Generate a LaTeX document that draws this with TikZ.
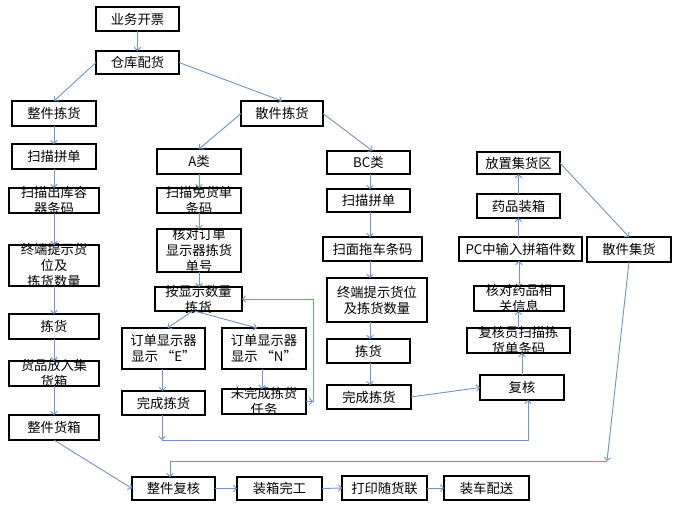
\documentclass[tikz,border=0pt]{standalone}
\usepackage{fontspec}
\newfontfamily\cjk{Noto Sans CJK SC}
\usetikzlibrary{arrows.meta,calc}
\definecolor{conn}{RGB}{112,146,196}
\tikzset{
  box/.style={draw=black,line width=2.4pt,inner sep=0pt,outer sep=0pt,rectangle},
  txt/.style={inner sep=0pt,align=center,font=\cjk\fontsize{13.3}{16}\selectfont},
  arr/.style={draw=conn,line width=0.9pt,-{Straight Barb[length=3pt,width=6.5pt]}},
}
\newcommand\bx[6]{%
  \node[box,minimum width={(#4-#2)*1pt},minimum height={(#5-#3)*1pt}] (#1) at ({(#2+#4)/2},{(#3+#5)/2}) {};
  \node[txt] (#1-t) at (#1.center) {#6};}
\begin{document}
\begin{tikzpicture}[x=1pt,y=-1pt]
\useasboundingbox[fill=white] (0,0) rectangle (674,509);
% left column
\bx{yw}{96}{7}{179}{31}{业务开票}
\bx{ck}{96}{51}{179}{74}{仓库配货}
\bx{zj}{12}{101}{96}{126}{整件拣货}
\bx{sj}{241}{101}{323}{126}{散件拣货}
\bx{smA}{12}{144}{96}{169}{扫描拼单}
\bx{sc}{9}{188}{99}{213}{扫描出库容\\器条码}
\bx{zdA}{9}{245}{99}{286}{终端提示货\\位及\\拣货数量}
\bx{jhA}{9}{314}{99}{339}{拣货}
\bx{hp}{9}{361}{99}{386}{货品放入集\\货箱}
\bx{zx}{9}{415}{99}{440}{整件货箱}
% A column
\bx{A}{157}{149}{241}{174}{A类}
\bx{smj}{157}{188}{241}{213}{扫描免货单\\条码}
\bx{hd}{157}{229}{241}{272}{核对订单\\显示器拣货\\单号}
\bx{ax}{155}{287}{242}{311}{按显示数量\\拣货}
\bx{E}{122}{328}{205}{369}{订单显示器\\显示 “E”}
\bx{N}{222}{328}{306}{369}{订单显示器\\显示 “N”}
\bx{wcA}{122}{391}{205}{415}{完成拣货}
\bx{wwc}{222}{389}{306}{414}{未完成拣货\\任务}
% BC column
\bx{BC}{327}{151}{410}{174}{BC类}
\bx{smB}{327}{189}{410}{212}{扫描拼单}
\bx{tc}{323}{237}{422}{261}{扫面拖车条码}
\bx{zdB}{327}{278}{427}{322}{终端提示货位\\及拣货数量}
\bx{jhB}{327}{339}{410}{363}{拣货}
\bx{wcB}{327}{385}{411}{409}{完成拣货}
% right column
\bx{fz}{477}{152}{560}{174}{放置集货区}
\bx{yp}{477}{194}{560}{218}{药品装箱}
\bx{pc}{459}{237}{582}{261}{PC中输入拼箱件数}
\bx{sjh}{587}{237}{671}{262}{散件集货}
\bx{hy}{474}{286}{564}{311}{核对药品相\\关信息}
\bx{fhy}{467}{328}{570}{353}{复核员扫描拣\\货单条码}
\bx{fh}{480}{375}{564}{400}{复核}
% bottom row
\bx{zf}{132}{477}{215}{500}{整件复核}
\bx{zw}{237}{477}{322}{500}{装箱完工}
\bx{dy}{342}{476}{427}{500}{打印随货联}
\bx{zc}{444}{476}{529}{500}{装车配送}
% helper coordinates
\coordinate (r1) at (313,401.5);
\coordinate (q1) at (162,440);
\coordinate (q2) at (528,440);
\coordinate (p1) at (607,461);
\coordinate (p2) at (170,461);
% connectors
\draw[arr] (yw.south) -- (yw.south |- ck.north);
\draw[arr] (ck.west) -- (zj.north);
\draw[arr] (ck.east) -- (sj.north);
\draw[arr] (zj.south) -- (zj.south |- smA.north);
\draw[arr] (smA.south) -- (smA.south |- sc.north);
\draw[arr] (sc.south) -- (sc.south |- zdA.north);
\draw[arr] (zdA.south) -- (zdA.south |- jhA.north);
\draw[arr] (jhA.south) -- (jhA.south |- hp.north);
\draw[arr] (hp.south) -- (hp.south |- zx.north);
\draw[arr] (zx.south) -- (zf.west);
\draw[arr] (sj.west) -- (A.north);
\draw[arr] (sj.east) -- ([xshift=4pt]BC.north);
\draw[arr] (A.south) -- (A.south |- smj.north);
\draw[arr] (smj.south) -- (smj.south |- hd.north);
\draw[arr] (hd.south) -- (hd.south |- ax.north);
\draw[arr] ([xshift=-6pt]ax.south) -- ([xshift=4pt]E.north);
\draw[arr] ([xshift=-4pt]ax.south) -- ([xshift=-7pt]N.north);
\draw[arr] ([xshift=-1pt]E.south) -- ([xshift=-1pt]E.south |- wcA.north);
\draw[arr] ([xshift=-2pt]N.south) -- ([xshift=-2pt]N.south |- wwc.north);
\draw[arr] (wwc.east |- r1) -- (r1);
\draw[arr] (r1) |- (ax.east);
\draw[arr] (wcA.south -| q1) -- (q1);
\draw[arr] (q1) -- (q2) -- (q2 |- fh.south);
\draw[arr] ([xshift=1.5pt]BC.south) -- ([xshift=1.5pt]BC.south |- smB.north);
\draw[arr] ([xshift=1.5pt]smB.south) -- ([xshift=1.5pt]smB.south |- tc.north);
\draw[arr] ([xshift=1.5pt]smB.south |- tc.south) -- ([xshift=1.5pt]smB.south |- zdB.north);
\draw[arr] ([xshift=1.5pt]smB.south |- zdB.south) -- ([xshift=1.5pt]smB.south |- jhB.north);
\draw[arr] ([xshift=1.5pt]jhB.south) -- ([xshift=1.5pt]jhB.south |- wcB.north);
\draw[arr] (wcB.east) -- (fh.west);
\draw[arr] (fh.north) -- (fh.north |- fhy.south);
\draw[arr] (fhy.north) -- (fhy.north |- hy.south);
\draw[arr] (hy.north) -- (hy.north |- pc.south);
\draw[arr] (yp.south |- pc.north) -- (yp.south);
\draw[arr] (yp.north) -- (yp.north |- fz.south);
\draw[arr] (fz.east) -- (sjh.north);
\draw[arr] (sjh.south) -- (p1);
\draw[arr] (p1) -- (p2) -- (p2 |- zf.north);
\draw[arr] (zf.east) -- (zw.west);
\draw[arr] (zw.east) -- (dy.west);
\draw[arr] (dy.east) -- (zc.west);
\end{tikzpicture}
\end{document}
